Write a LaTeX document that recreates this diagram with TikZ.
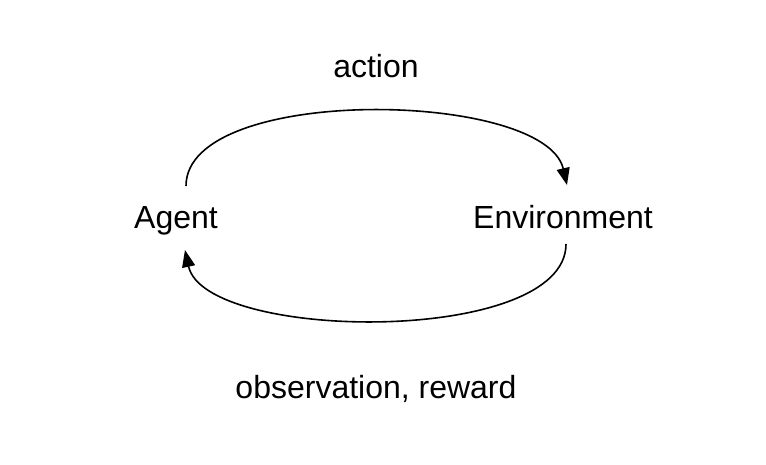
\documentclass[tikz,border=0pt]{standalone}
\usepackage{fontspec}
\setmainfont{Liberation Sans}
\usetikzlibrary{arrows.meta}
\begin{document}
\begin{tikzpicture}[x=1pt,y=-1pt,
  lbl/.style={font=\fontsize{32}{37}\selectfont, inner sep=0pt, anchor=base},
  loop/.style={line width=1.6pt, -{Triangle[length=17pt,width=13pt]}}]
  \useasboundingbox (0,0) rectangle (766,464);
  % labels
  \node[lbl] (agent) at (176,228) {Agent};
  \node[lbl] (env) at (563,228) {Environment};
  \node[lbl] (act) at (376,77) {action};
  \node[lbl] (obs) at (376,398) {observation, reward};
  % arc end points
  \coordinate (a1) at (186,186);
  \coordinate (e1) at (567,185);
  \coordinate (e2) at (566,244);
  \coordinate (a2) at (185,250);
  % action: agent -> environment
  \draw[loop] (a1) .. controls (186,84) and (545,90) .. (e1);
  % observation/reward: environment -> agent
  \draw[loop] (e2) .. controls (566,346) and (205,342) .. (a2);
\end{tikzpicture}
\end{document}
